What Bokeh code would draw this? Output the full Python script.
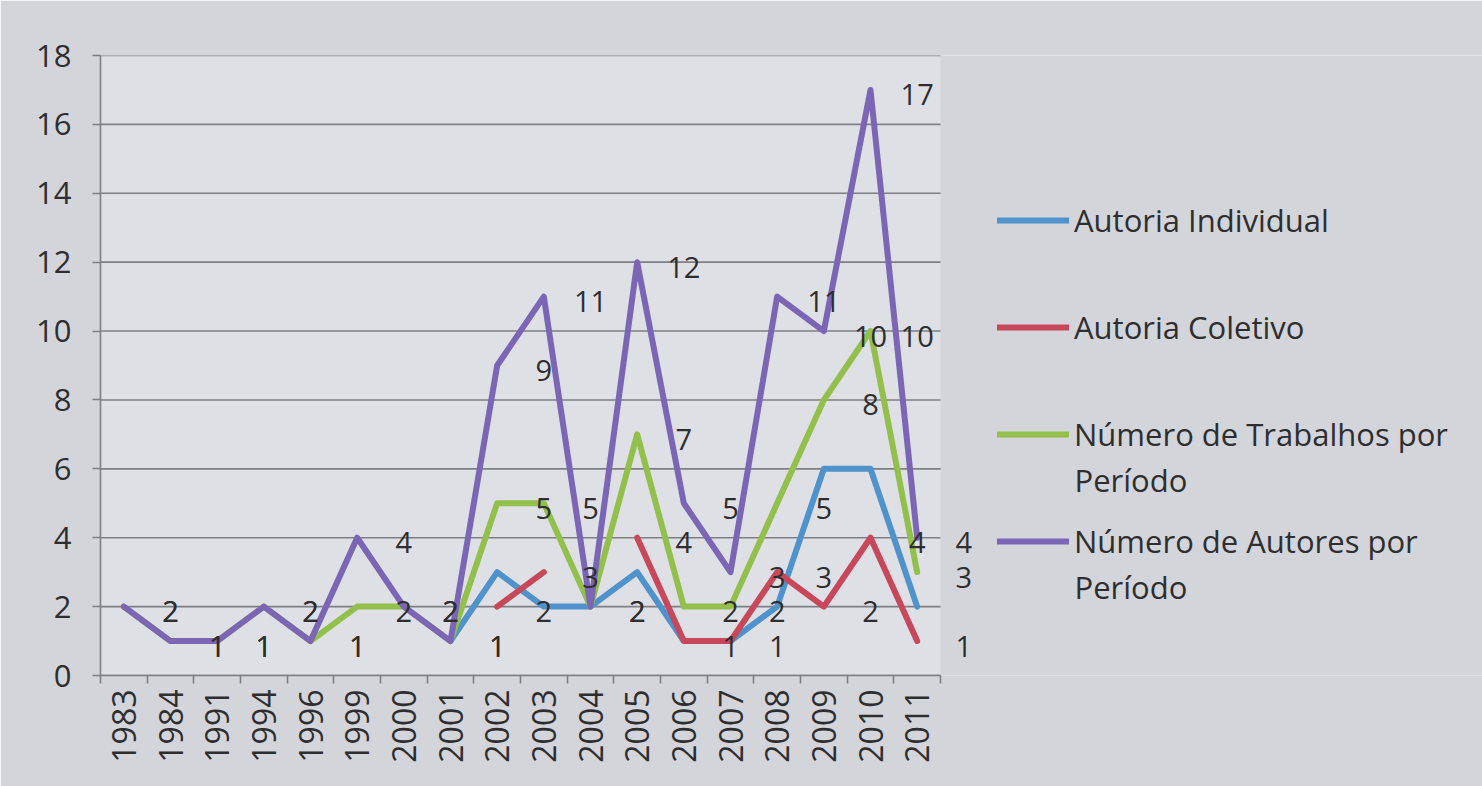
import math
from bokeh.plotting import figure
from bokeh.models import (Range1d, LinearAxis, FixedTicker, ColumnDataSource, CustomJSTickFormatter,
                          LabelSet, Legend, LegendItem, Label)
from bokeh.core.properties import value
from bokeh.embed import file_html
from bokeh.resources import INLINE

nan = float("nan")

years = ["1983", "1984", "1991", "1994", "1996", "1999", "2000", "2001", "2002",
         "2003", "2004", "2005", "2006", "2007", "2008", "2009", "2010", "2011"]
autoria_individual = [nan, nan, nan, nan, nan, nan, nan, 1, 3, 2, 2, 3, 1, 1, 2, 6, 6, 2]
autoria_coletivo = [nan, nan, nan, nan, nan, nan, nan, nan, 2, 3, nan, 4, 1, 1, 3, 2, 4, 1]
trabalhos_por_periodo = [2, 1, 1, 2, 1, 2, 2, 1, 5, 5, 2, 7, 2, 2, 5, 8, 10, 3]
autores_por_periodo = [2, 1, 1, 2, 1, 4, 2, 1, 9, 11, 2, 12, 5, 3, 11, 10, 17, 4]

legend_first_lines = ["Autoria Individual", "Autoria Coletivo",
                      "Número de Trabalhos por", "Número de Autores por"]
legend_second_lines = ["", "", "Período", "Período"]
y_ticks = list(range(0, 19, 2))

colors = ["#4f92cc", "#c8485b", "#93bf4d", "#7b66b6"]
series = [autoria_individual, autoria_coletivo, trabalhos_por_periodo, autores_por_periodo]
labelled = [False, True, True, True]

FONT = "Open Sans"
TEXT = "#2e2e30"
GRID = "#7d7f84"
W, H = 1482, 786
LEFT, BOTTOM, TOP = 100, 111, 55
AREA_W = 840  # pixel width of the category area
FRAME_BOTTOM = H - BOTTOM

n = len(years)
xpos = [i + 0.5 for i in range(n)]           # category centres
edges = list(range(n + 1))                   # category boundaries
x_end = n * (W - LEFT) / AREA_W

p = figure(width=W, height=H, x_range=Range1d(0, x_end), y_range=Range1d(0, 18),
           output_backend="svg", toolbar_location=None, x_axis_location=None,
           min_border_left=LEFT, min_border_right=0, min_border_top=TOP,
           min_border_bottom=BOTTOM)
p.background_fill_color = "#d3d5db"
p.border_fill_color = "#d3d5db"
p.outline_line_color = None
p.grid.visible = False

# plot area background and horizontal gridlines (limited to the category area)
p.quad(left=0, right=n, bottom=0, top=18, fill_color="#dfe0e5", line_color=None, level="underlay")
p.segment(x0=[0] * len(y_ticks), x1=[n] * len(y_ticks), y0=y_ticks, y1=y_ticks,
          line_color=GRID, line_width=1.6, level="underlay")

yax = p.yaxis[0]
yax.ticker = FixedTicker(ticks=y_ticks)
yax.axis_line_color = GRID
yax.axis_line_width = 1.6
yax.major_tick_line_color = GRID
yax.major_tick_line_width = 1.6
yax.major_tick_out = 8
yax.major_tick_in = 0
yax.minor_tick_line_color = None
yax.major_label_text_font = FONT
yax.major_label_text_font_size = "31px"
yax.major_label_text_color = TEXT
yax.major_label_standoff = 21

xax = LinearAxis(ticker=FixedTicker(ticks=xpos, minor_ticks=edges), bounds=(0, n),
                 formatter=CustomJSTickFormatter(args={"labels": years},
                                                 code="return labels[Math.floor(tick)];"),
                 axis_line_color=GRID, axis_line_width=1.6,
                 major_tick_line_color=None, major_tick_out=8, major_tick_in=0,
                 minor_tick_line_color=GRID, minor_tick_line_width=1.6,
                 minor_tick_out=8, minor_tick_in=0,
                 major_label_orientation=math.pi / 2,
                 major_label_text_font=FONT, major_label_text_font_size="32px",
                 major_label_text_color=TEXT, major_label_standoff=6)
p.add_layout(xax, "below")

data = {"x": xpos}
for i, vals in enumerate(series):
    data[f"s{i}"] = vals
src = ColumnDataSource(data)
renderers = []
for i, col in enumerate(colors):
    r = p.line(x="x", y=f"s{i}", source=src, line_color=col, line_width=6,
               line_join="round", line_cap="round")
    renderers.append(r)

# data labels: drawn one category to the right of their point, as in the original
for i, vals in enumerate(series):
    if not labelled[i]:
        continue
    lx = [x + 1 for x, v in zip(xpos, vals) if v == v]
    lv = [v for v in vals if v == v]
    lsrc = ColumnDataSource({"x": lx, "value": lv, "text": [str(int(v)) for v in lv]})
    ls = LabelSet(x="x", y="value", text="text", source=lsrc,
                  text_align="center", text_baseline="middle", y_offset=-5,
                  text_font=value(FONT), text_font_size="29px", text_color=TEXT)
    p.add_layout(ls)

# legend: items 107 px apart, first item centred 220 px from the top of the page
ITEM_H, ITEM_GAP, FIRST_CENTER = 44, 63, 220
legend_top = FIRST_CENTER - ITEM_H / 2
legend_h = 4 * ITEM_H + 3 * ITEM_GAP
legend = Legend(items=[LegendItem(label=t, renderers=[r]) for t, r in zip(legend_first_lines, renderers)],
                location=(897, FRAME_BOTTOM - (legend_top + legend_h)), orientation="vertical",
                glyph_width=72, glyph_height=ITEM_H, label_height=ITEM_H, spacing=ITEM_GAP,
                padding=0, margin=0, border_line_color=None,
                background_fill_alpha=0, label_text_font=FONT, label_text_font_size="31px",
                label_text_color=TEXT, label_standoff=5)
p.add_layout(legend)

for k, extra in enumerate(legend_second_lines):
    if extra:
        center = FIRST_CENTER + k * (ITEM_H + ITEM_GAP)
        p.add_layout(Label(x=974, y=FRAME_BOTTOM - (center + 45), x_units="screen", y_units="screen",
                           text=extra, text_baseline="middle", text_font=FONT,
                           text_font_size="31px", text_color=TEXT))

open("out.html", "w").write(file_html(p, INLINE))
